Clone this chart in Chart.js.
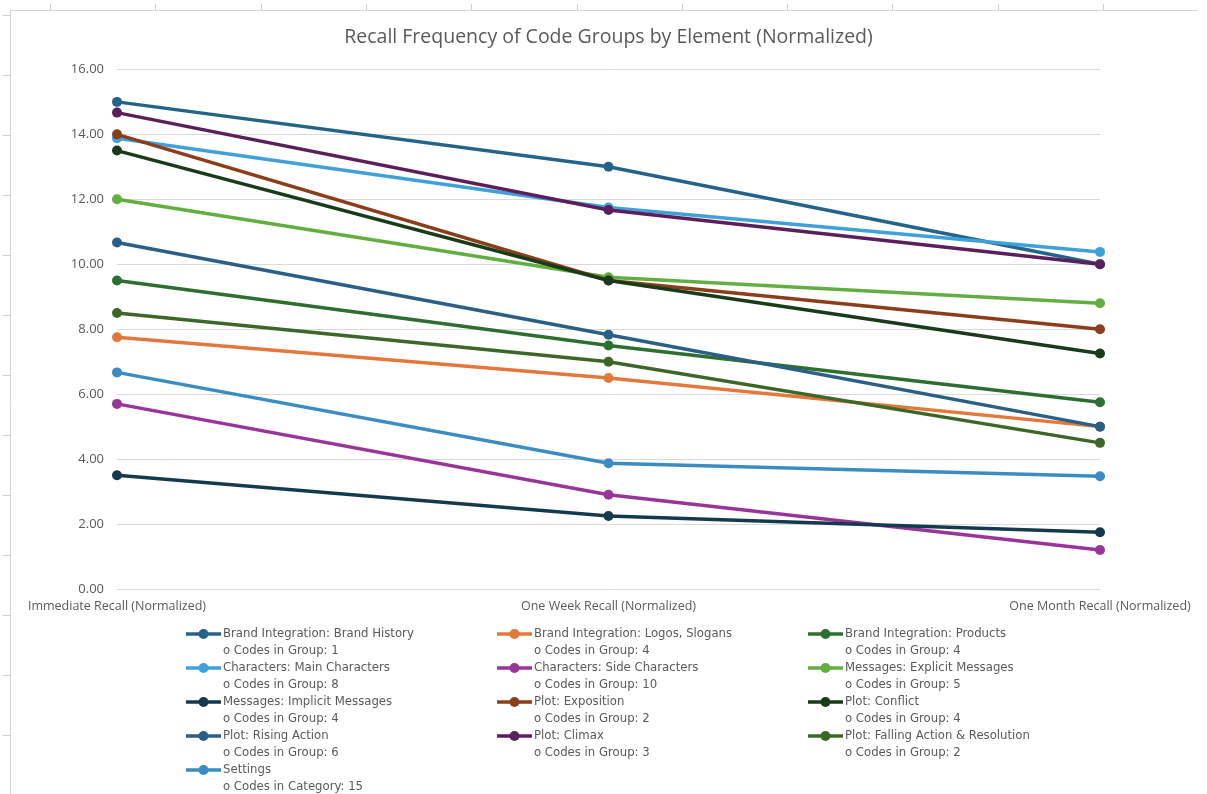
<!DOCTYPE html>
<html>
<head>
<meta charset="utf-8">
<title>Recall Frequency of Code Groups by Element (Normalized)</title>
<script src="https://cdn.jsdelivr.net/npm/chart.js@4.4.1/dist/chart.umd.min.js"></script>
<style>
  html, body { margin: 0; padding: 0; background: #ffffff; }
  #wrap { width: 1207px; height: 794px; position: relative; }
</style>
</head>
<body>
<div id="wrap"><canvas id="chart" width="1207" height="794"></canvas></div>
<script>
// Recall checkpoints
const categories = [
  'Immediate Recall (Normalized)',
  'One Week Recall (Normalized)',
  'One Month Recall (Normalized)'
];

// Normalized recall frequency per code group
const brandHistory     = [15.00, 13.00, 10.00];
const logosSlogans     = [7.75, 6.50, 5.00];
const products         = [9.50, 7.50, 5.75];
const mainCharacters   = [13.88, 11.75, 10.38];
const sideCharacters   = [5.70, 2.90, 1.20];
const explicitMessages = [12.00, 9.60, 8.80];
const implicitMessages = [3.50, 2.25, 1.75];
const exposition       = [14.00, 9.50, 8.00];
const conflict         = [13.50, 9.50, 7.25];
const risingAction     = [10.67, 7.83, 5.00];
const climax           = [14.67, 11.67, 10.00];
const fallingAction    = [8.50, 7.00, 4.50];
const settings         = [6.67, 3.87, 3.47];

// Group names and their sub-line in the legend
const groupNames = [
  'Brand Integration: Brand History',
  'Brand Integration: Logos, Slogans',
  'Brand Integration: Products',
  'Characters: Main Characters',
  'Characters: Side Characters',
  'Messages: Explicit Messages',
  'Messages: Implicit Messages',
  'Plot: Exposition',
  'Plot: Conflict',
  'Plot: Rising Action',
  'Plot: Climax',
  'Plot: Falling Action & Resolution',
  'Settings'
];
const groupNotes = [
  'o Codes in Group: 1',
  'o Codes in Group: 4',
  'o Codes in Group: 4',
  'o Codes in Group: 8',
  'o Codes in Group: 10',
  'o Codes in Group: 5',
  'o Codes in Group: 4',
  'o Codes in Group: 2',
  'o Codes in Group: 4',
  'o Codes in Group: 6',
  'o Codes in Group: 3',
  'o Codes in Group: 2',
  'o Codes in Category: 15'
];

// Y axis ticks
const yTickValues = [0, 2, 4, 6, 8, 10, 12, 14, 16];

const seriesValues = [
  brandHistory, logosSlogans, products, mainCharacters, sideCharacters,
  explicitMessages, implicitMessages, exposition, conflict, risingAction,
  climax, fallingAction, settings
];
const seriesColors = [
  '#25648a', '#e4783a', '#2c6f2f', '#40a1da', '#983599',
  '#63ae40', '#153a50', '#8a3e1a', '#183c19', '#2b5f86',
  '#5b1f5b', '#3c6827', '#3b8cc3'
];

const textGray = '#595959';
const gridGray = '#d9d9d9';
const uiFont = "'Open Sans', 'Noto Sans', sans-serif";
const legendFont = "'DejaVu Sans Condensed', 'Liberation Sans', sans-serif";

// Sheet frame behind the chart: outer border plus the cell-grid ticks around it
const sheetFrame = {
  id: 'sheetFrame',
  beforeDraw(chart) {
    const ctx = chart.ctx;
    ctx.save();
    ctx.fillStyle = '#ffffff';
    ctx.fillRect(0, 0, chart.width, chart.height);
    ctx.strokeStyle = '#d4d4d4';
    ctx.lineWidth = 1;
    ctx.beginPath();
    ctx.moveTo(10.5, chart.height);
    ctx.lineTo(10.5, 10.5);
    ctx.lineTo(1198, 10.5);
    ctx.stroke();
    ctx.strokeStyle = '#cfcfcf';
    ctx.beginPath();
    for (let x = 50; x < 1198; x += 105.3) {
      const px = Math.round(x) + 0.5;
      ctx.moveTo(px, 4);
      ctx.lineTo(px, 10);
    }
    for (let y = 15; y < chart.height; y += 60) {
      const py = Math.round(y) + 0.5;
      ctx.moveTo(3, py);
      ctx.lineTo(10, py);
    }
    ctx.stroke();
    ctx.restore();
  }
};

// Two-line legend in three columns under the plot
const groupLegend = {
  id: 'groupLegend',
  afterDraw(chart) {
    const ctx = chart.ctx;
    const colX = [186, 497, 808];
    const top = 634, rowH = 34, lineH = 17;
    ctx.save();
    ctx.font = '13px ' + legendFont;
    ctx.textBaseline = 'middle';
    ctx.textAlign = 'left';
    chart.data.datasets.forEach((ds, i) => {
      const x = colX[i % 3];
      const y = top + Math.floor(i / 3) * rowH;
      ctx.strokeStyle = ds.borderColor;
      ctx.lineWidth = 3.5;
      ctx.lineCap = 'butt';
      ctx.beginPath();
      ctx.moveTo(x, y);
      ctx.lineTo(x + 35, y);
      ctx.stroke();
      ctx.fillStyle = ds.borderColor;
      ctx.beginPath();
      ctx.arc(x + 17.5, y, 5, 0, Math.PI * 2);
      ctx.fill();
      ctx.fillStyle = textGray;
      ctx.fillText(ds.label, x + 37, y);
      ctx.fillText(groupNotes[i], x + 37, y + lineH);
    });
    ctx.restore();
  }
};

const datasets = seriesValues.map((vals, i) => ({
  label: groupNames[i],
  data: vals,
  borderColor: seriesColors[i],
  backgroundColor: seriesColors[i],
  pointBackgroundColor: seriesColors[i],
  pointBorderColor: seriesColors[i],
  borderWidth: 3.5,
  pointRadius: 5,
  pointBorderWidth: 0,
  pointHoverRadius: 5,
  tension: 0,
  fill: false,
  order: -i
}));

new Chart(document.getElementById('chart'), {
  type: 'line',
  data: { labels: categories, datasets },
  plugins: [sheetFrame, groupLegend],
  options: {
    responsive: false,
    animation: false,
    devicePixelRatio: 1,
    layout: { padding: { left: 10, right: 0, top: 0, bottom: 175 } },
    plugins: {
      legend: { display: false },
      tooltip: { enabled: false },
      title: {
        display: true,
        text: 'Recall Frequency of Code Groups by Element (Normalized)',
        color: textGray,
        font: { family: uiFont, size: 19.5, weight: 'normal' },
        padding: { top: 26, bottom: 20 }
      }
    },
    scales: {
      x: {
        type: 'category',
        offset: false,
        grid: { display: false, drawTicks: false },
        border: { display: false },
        ticks: {
          color: textGray,
          font: { family: uiFont, size: 12.5 },
          padding: 10,
          maxRotation: 0,
          autoSkip: false
        },
        afterFit(scale) { scale.height = 30; }
      },
      y: {
        min: 0,
        max: 16,
        afterBuildTicks(scale) { scale.ticks = yTickValues.map(v => ({ value: v })); },
        grid: { color: gridGray, lineWidth: 1, drawTicks: false },
        border: { display: false },
        ticks: {
          color: textGray,
          font: { family: uiFont, size: 13 },
          padding: 13,
          callback: v => Number(v).toFixed(2)
        },
        afterFit(scale) { scale.width = 107; }
      },
      // empty right-hand margin so the plot ends where the last checkpoint sits
      yRight: {
        position: 'right',
        display: true,
        min: 0,
        max: 16,
        grid: { display: false, drawTicks: false },
        border: { display: false },
        ticks: { display: false },
        afterFit(scale) { scale.width = 107; }
      }
    }
  }
});
</script>
</body>
</html>
